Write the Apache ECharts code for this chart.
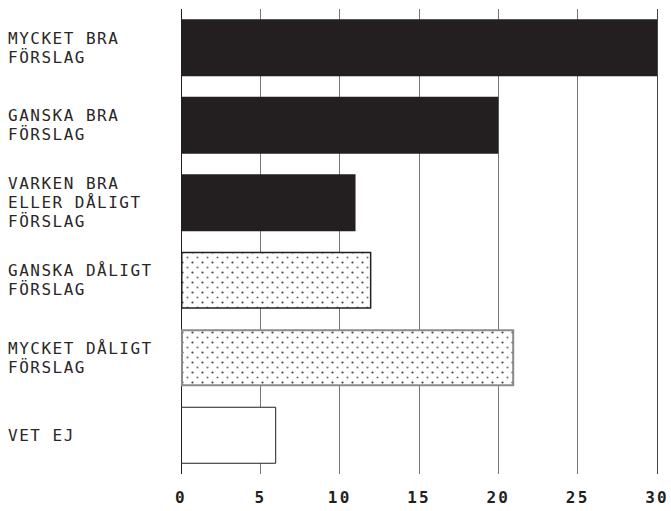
<!DOCTYPE html>
<html>
<head>
<meta charset="utf-8">
<script src="https://cdn.jsdelivr.net/npm/echarts@6/dist/echarts.min.js"></script>
<style>
  html, body { margin: 0; padding: 0; background: #fff; }
  #chart { width: 671px; height: 511px; }
  #chart text { letter-spacing: 1.5px; }
  #chart text[style*="bold"] { letter-spacing: 2.2px; }
</style>
</head>
<body>
<div id="chart"></div>
<script>
const categories = [
  'MYCKET BRA\nFÖRSLAG',
  'GANSKA BRA\nFÖRSLAG',
  'VARKEN BRA\nELLER DÅLIGT\nFÖRSLAG',
  'GANSKA DÅLIGT\nFÖRSLAG',
  'MYCKET DÅLIGT\nFÖRSLAG',
  'VET EJ'
];
const values = [30, 20, 11, 12, 21, 6];
const xTicks = [0, 5, 10, 15, 20, 25, 30];

// dotted pattern tile
const tile = document.createElement('canvas');
tile.width = 10; tile.height = 10;
const tc = tile.getContext('2d');
tc.fillStyle = '#ffffff';
tc.fillRect(0, 0, 10, 10);
tc.fillStyle = '#444444';
tc.beginPath(); tc.arc(2.5, 2.5, 1.1, 0, Math.PI * 2); tc.fill();
tc.fillStyle = '#777777';
tc.beginPath(); tc.arc(7.5, 7.5, 1.1, 0, Math.PI * 2); tc.fill();
const dots = { image: tile, repeat: 'repeat' };

const itemStyles = [
  { color: '#231f20' },
  { color: '#231f20' },
  { color: '#231f20' },
  { color: dots, borderColor: '#231f20', borderWidth: 1.5 },
  { color: dots, borderColor: '#8a8a8a', borderWidth: 2 },
  { color: '#ffffff', borderColor: '#231f20', borderWidth: 1 }
];

const chart = echarts.init(document.getElementById('chart'), null, { renderer: 'svg' });
chart.setOption({
  animation: false,
  backgroundColor: '#ffffff',
  grid: { left: 181, right: 14, top: 9, bottom: 37, containLabel: false },
  xAxis: {
    type: 'value',
    min: xTicks[0],
    max: xTicks[xTicks.length - 1],
    interval: 5,
    axisLine: { show: false },
    axisTick: { show: false },
    splitLine: {
      show: true,
      lineStyle: { color: ['#231f20', '#777', '#777', '#777', '#777', '#777', '#444'], width: 1 }
    },
    axisLabel: {
      margin: 15,
      color: '#231f20',
      fontFamily: 'DejaVu Sans Mono',
      fontWeight: 'bold',
      fontSize: 16
    }
  },
  yAxis: {
    type: 'category',
    inverse: true,
    data: categories,
    axisLine: { show: false },
    axisTick: { show: false },
    splitLine: { show: false },
    axisLabel: {
      align: 'left',
      margin: 173,
      color: '#2a2627',
      fontFamily: 'DejaVu Sans Mono',
      fontSize: 16,
      lineHeight: 19
    }
  },
  series: [{
    type: 'bar',
    barWidth: 57,
    data: values.map((v, i) => ({ value: v, itemStyle: itemStyles[i] }))
  }]
});
</script>
</body>
</html>
